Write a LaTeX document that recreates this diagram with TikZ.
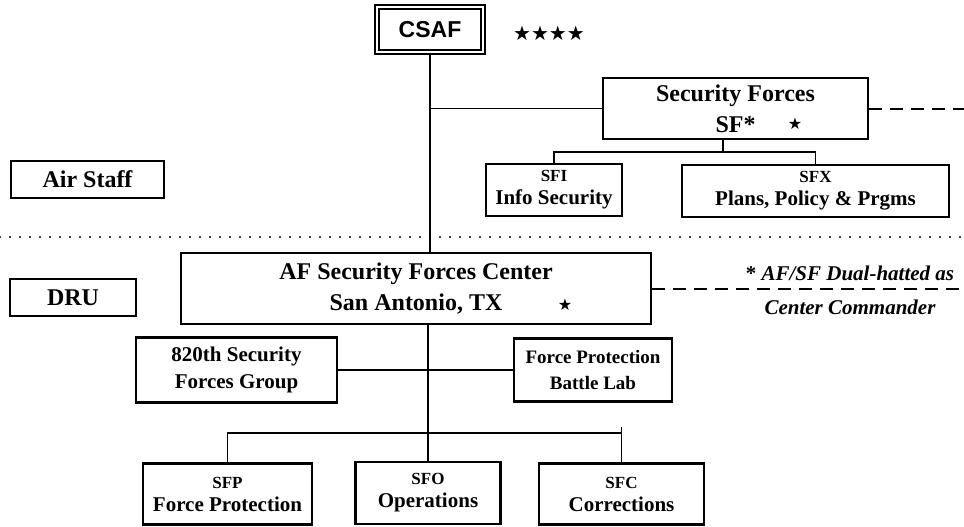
\documentclass[tikz,border=0pt]{standalone}
\usepackage{fontspec}
\setmainfont{Liberation Serif}
\newfontfamily\csaffont{Liberation Sans}
\newfontfamily\starfont{DejaVu Sans}
\newcommand{\unitcode}[1]{{\fontsize{17}{17}\selectfont #1}}
\tikzset{
    unit/.style={draw,line width=2.2pt,align=center,inner sep=0pt,font=\fontsize{21}{27}\selectfont\bfseries},
    codeunit/.style={unit,font=\fontsize{21}{23}\selectfont\bfseries},
    bigunit/.style={unit,font=\fontsize{24}{31}\selectfont\bfseries},
    csafbox/.style={draw,double,double distance=2.4pt,line width=1.5pt,inner sep=0pt,font=\csaffont\fontsize{23}{23}\selectfont\bfseries},
    starmark/.style={font=\starfont\fontsize{16}{16}\selectfont},
    note/.style={align=center,font=\fontsize{21}{34}\selectfont\bfseries\itshape},
    link/.style={line width=1.4pt},
    dashlink/.style={line width=2pt,dash pattern=on 13pt off 8pt},
    dotline/.style={line width=2.4pt,dash pattern=on 0pt off 10pt,line cap=round}
}

\begin{document}
\begin{tikzpicture}[x=1pt,y=-1pt]
    \useasboundingbox (0,0) rectangle (964,527);
    % chief of staff
    \node[csafbox,minimum width=106pt,minimum height=45pt] (csaf) at (430,29.5) {CSAF};
    \node[starmark,font=\starfont\fontsize{20}{20}\selectfont] (rank) at (549,33) {★★★★};
    % air staff level
    \node[bigunit,minimum width=265pt,minimum height=61pt] (sf) at (735.5,108.5) {Security Forces\\SF*};
    \node[starmark] (sfstar) at (795,124) {★};
    \node[codeunit,minimum width=136pt,minimum height=52pt] (sfi) at (554,190) {\unitcode{SFI}\\Info Security};
    \node[codeunit,minimum width=267pt,minimum height=52pt] (sfx) at (815.5,191) {\unitcode{SFX}\\Plans, Policy \& Prgms};
    \node[bigunit,minimum width=153pt,minimum height=37pt] (airstaff) at (87.5,179.5) {Air Staff};
    % DRU level
    \node[bigunit,minimum width=126pt,minimum height=37pt] (dru) at (73,297.5) {DRU};
    \node[bigunit,minimum width=470pt,minimum height=71pt] (center) at (416,288.5) {AF Security Forces Center\\San Antonio, TX};
    \node[starmark] (ctrstar) at (565,305) {★};
    \node[note] (note) at (850,290) {{\upshape *} AF/SF Dual-hatted as\\Center Commander};
    \node[unit,minimum width=201pt,minimum height=65pt] (grp820) at (236.5,370) {820th Security\\Forces Group};
    \node[unit,minimum width=158pt,minimum height=63pt,font=\fontsize{19}{26}\selectfont\bfseries] (lab) at (593,370) {Force Protection\\Battle Lab};
    \node[codeunit,minimum width=169pt,minimum height=61pt] (sfp) at (227.5,494) {\unitcode{SFP}\\Force Protection};
    \node[codeunit,minimum width=145pt,minimum height=62pt] (sfo) at (428,493) {\unitcode{SFO}\\Operations};
    \node[codeunit,minimum width=165pt,minimum height=61pt] (sfc) at (621.5,494) {\unitcode{SFC}\\Corrections};
    % helper points
    \coordinate (rim) at (964,0);
    \coordinate (sfbus) at (723,152);
    \coordinate (bus) at (428,433);
    \coordinate (tick) at (621.5,427);
    \coordinate (split) at (0,237);
    % connectors
    \draw[link] (csaf.south) -- (csaf.south |- center.north);
    \draw[link] (csaf.south |- sf.west) -- (sf.west);
    \draw[link] (sf.south -| sfbus) -- (sfbus);
    \draw[link] (sfi.north) |- (sfbus) -| (sfx.north);
    \draw[link] (center.south -| sfo.north) -- (sfo.north);
    \draw[link] (grp820.east) -- (lab.west);
    \draw[link] (sfp.north) |- (bus) -| (sfc.north);
    \draw[link] (sfc.north) -- (tick);
    \draw[dashlink] (sf.east) -- (sf.east -| rim);
    \draw[dashlink] (center.east) -- (center.east -| rim);
    \draw[dotline] (split) -- (split -| rim);
\end{tikzpicture}
\end{document}
